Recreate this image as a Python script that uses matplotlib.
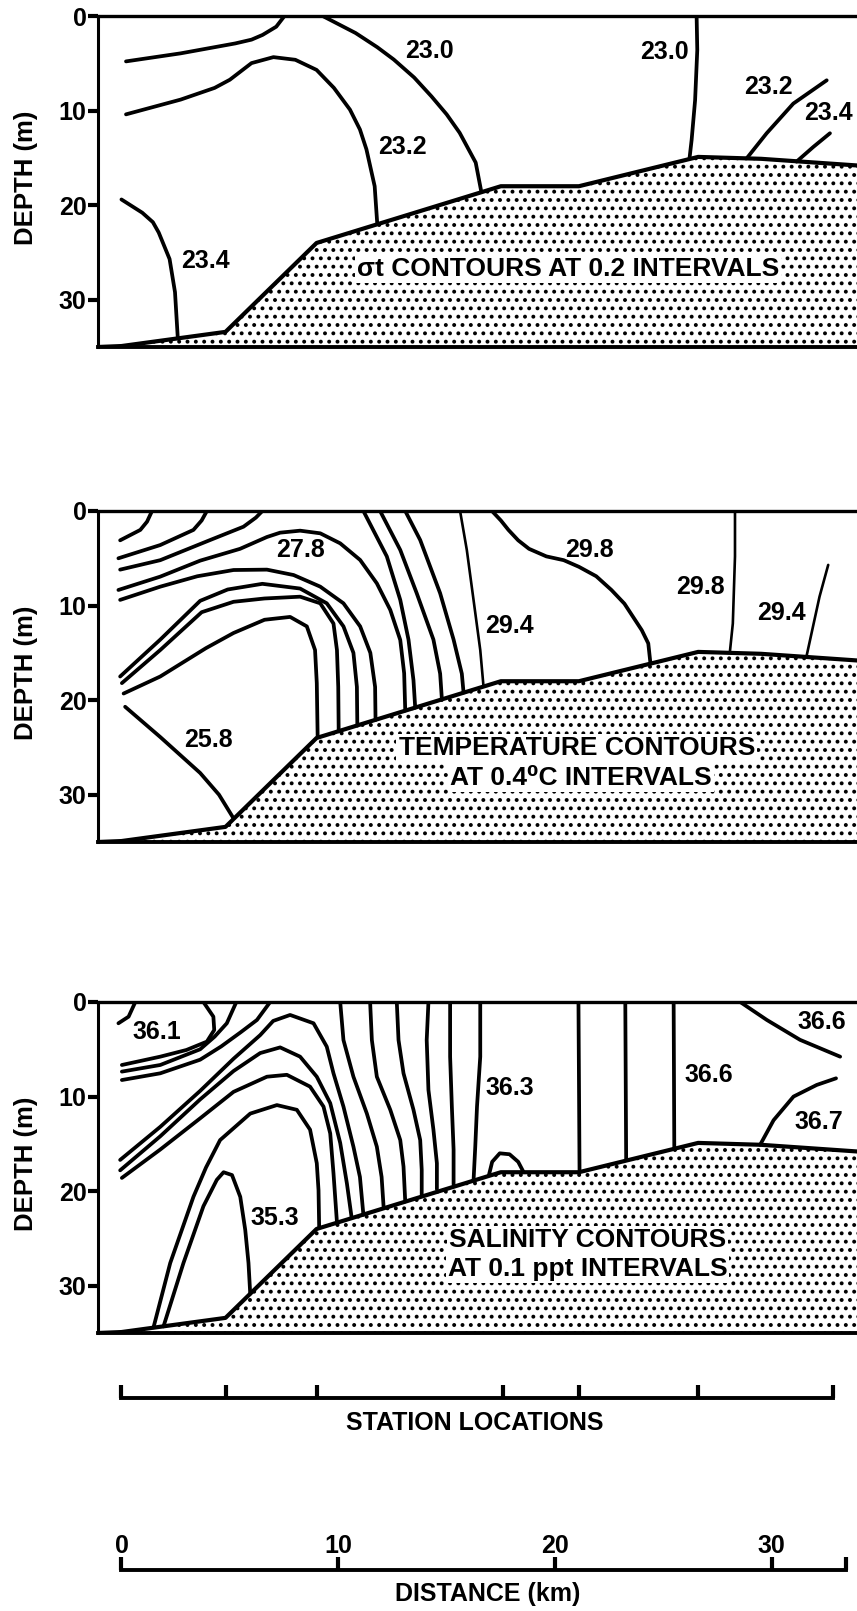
import matplotlib
matplotlib.use("Agg")
import matplotlib.pyplot as plt

plt.rcParams["font.family"] = ["Liberation Sans", "DejaVu Sans"]
plt.rcParams["font.weight"] = "bold"
plt.rcParams["hatch.color"] = "black"
plt.rcParams["hatch.linewidth"] = 1.6

# sea floor profile, distance (km) / depth (m)
bottom_km = [-1.1, 0.0, 4.8, 9.0, 17.5, 21.1, 26.6, 29.5, 33.9, 36.0]
bottom_depth = [35.0, 34.9, 33.4, 24.0, 18.0, 18.0, 14.9, 15.1, 15.8, 16.2]

station_km = [0.0, 4.8, 9.0, 17.6, 21.1, 26.6, 32.8]
distance_ticks = [0, 10, 20, 30]
distance_end_km = 33.4
depth_ticks = [0, 10, 20, 30]

# ---- sigma-t section: (km, depth) ----
sigma_a = [(0.21, 4.8), (2.73, 3.95), (5.25, 2.9), (6.0, 2.5), (6.51, 2.0), (7.14, 1.13), (7.52, 0.0)]
sigma_b = [(0.21, 10.4), (2.73, 8.84), (4.3, 7.6), (5.0, 6.74), (6.0, 4.98), (7.01, 4.35), (8.02, 4.63),
           (9.0, 5.7), (9.8, 7.6), (10.54, 9.9), (11.0, 12.0), (11.3, 14.1), (11.68, 18.0), (11.8, 22.0)]
sigma_c = [(9.28, 0.0), (10.8, 1.8), (11.8, 3.3), (12.56, 4.6), (13.5, 6.5), (14.3, 8.5), (15.0, 10.4),
           (15.6, 12.35), (16.34, 15.5), (16.6, 18.6)]
sigma_d = [(0.0, 19.4), (0.96, 20.8), (1.45, 21.8), (1.72, 22.9), (2.22, 25.7), (2.47, 29.2), (2.6, 34.1)]
sigma_e = [(26.53, 0.0), (26.56, 3.6), (26.46, 8.9), (26.3, 13.1), (26.2, 15.1)]
sigma_f = [(28.84, 15.05), (29.76, 12.4), (30.99, 9.26), (32.53, 6.8)]
sigma_g = [(31.14, 15.4), (31.91, 13.85), (32.68, 12.4)]
sigma_labels = [(14.2, 3.75, "23.0"), (12.94, 13.9, "23.2"), (3.86, 25.9, "23.4"),
                (25.03, 3.78, "23.0"), (29.84, 7.56, "23.2"), (32.6, 10.3, "23.4")]
sigma_caption = [(20.6, 26.7, "σt CONTOURS AT 0.2 INTERVALS")]

# ---- temperature section ----
temp_a = [(-0.06, 3.1), (0.87, 2.0), (1.18, 1.13), (1.41, 0.0)]
temp_b = [(-0.14, 5.0), (1.79, 3.6), (3.32, 2.0), (3.7, 1.0), (3.94, 0.0)]
temp_c = [(-0.06, 6.2), (1.79, 5.2), (4.09, 3.07), (5.63, 1.66), (6.2, 0.7), (6.5, 0.0)]
temp_d = [(-0.14, 8.35), (1.79, 6.94), (3.63, 5.25), (5.47, 4.0), (6.71, 2.75), (7.32, 2.29),
          (8.24, 2.08), (9.17, 2.36), (10.09, 3.42), (11.01, 5.18), (11.78, 7.65), (12.4, 10.46),
          (12.86, 13.64), (13.04, 17.16), (13.09, 21.1)]
temp_e = [(-0.06, 9.4), (1.79, 8.0), (3.5, 6.9), (5.17, 6.24), (6.71, 6.2), (7.94, 6.77),
          (9.17, 8.0), (10.24, 9.76), (11.01, 12.2), (11.48, 15.0), (11.7, 18.6), (11.72, 22.1)]
temp_f = [(-0.06, 17.5), (1.79, 13.6), (3.63, 9.5), (4.9, 8.3), (6.5, 7.7), (8.24, 8.2),
          (9.47, 9.76), (10.24, 12.2), (10.7, 15.0), (10.86, 18.6), (10.88, 22.7)]
temp_g = [(0.02, 18.2), (1.79, 14.7), (3.7, 10.7), (5.17, 9.6), (6.6, 9.25), (8.24, 9.06),
          (9.17, 9.76), (9.78, 11.9), (9.94, 14.7), (10.0, 18.6), (10.02, 23.3)]
temp_h = [(0.1, 19.3), (1.79, 17.5), (3.9, 14.5), (5.17, 12.9), (6.6, 11.5), (7.78, 11.2),
          (8.55, 12.2), (8.93, 14.7), (9.01, 18.2), (9.05, 23.9)]
temp_i = [(0.17, 20.7), (1.79, 23.9), (3.63, 27.7), (4.5, 30.0), (5.17, 32.5)]
temp_j = [(11.16, 0.0), (12.24, 4.8), (12.86, 9.4), (13.24, 13.6), (13.47, 17.9), (13.55, 20.8)]
temp_k = [(11.93, 0.0), (12.86, 4.12), (13.62, 8.7), (14.39, 13.6), (14.7, 17.2), (14.78, 19.9)]
temp_l = [(13.09, 0.0), (13.78, 3.07), (14.7, 8.7), (15.32, 13.6), (15.7, 17.2), (15.78, 19.2)]
temp_m = [(15.62, 0.0), (15.93, 4.12), (16.24, 9.4), (16.55, 14.7), (16.7, 18.55)]
temp_n = [(17.09, 0.0), (17.5, 1.0), (17.85, 2.0), (18.3, 3.1), (18.8, 4.0), (19.6, 4.8), (20.4, 5.2),
          (21.1, 5.9), (21.9, 6.9), (22.6, 8.35), (23.2, 9.8), (23.6, 11.2), (24.0, 12.6),
          (24.3, 14.0), (24.4, 16.1)]
temp_o = [(28.3, 0.0), (28.3, 4.8), (28.2, 11.9), (28.06, 15.0)]
temp_p = [(31.6, 15.35), (32.2, 9.05), (32.6, 5.7)]
temp_labels = [(8.24, 4.12, "27.8"), (21.57, 4.12, "29.8"), (17.9, 12.2, "29.4"),
               (4.0, 24.2, "25.8"), (26.7, 8.0, "29.8"), (30.45, 10.8, "29.4")]
temp_caption = [(21.0, 25.1, "TEMPERATURE CONTOURS"), (21.2, 28.2, "AT 0.4⁰C INTERVALS")]

# ---- salinity section ----
sal_a = [(-0.14, 2.25), (0.33, 1.55), (0.64, 0.0)]
sal_b = [(0.02, 6.66), (1.79, 5.78), (3.0, 5.07), (3.94, 4.19), (4.28, 2.96), (4.24, 1.55), (3.78, 0.0)]
sal_c = [(0.02, 7.36), (1.79, 6.66), (3.63, 5.0), (4.3, 3.66), (4.86, 2.25), (5.3, 0.0)]
sal_d = [(0.02, 8.25), (1.79, 7.54), (3.63, 6.1), (4.6, 4.7), (5.5, 3.2), (6.25, 1.9), (6.86, 0.0)]
sal_e = [(-0.06, 16.7), (1.79, 13.2), (3.63, 9.4), (5.17, 6.0), (6.4, 3.5), (7.0, 2.0), (7.78, 1.37),
         (8.86, 2.25), (9.47, 4.72), (9.78, 7.54), (10.24, 11.06), (10.7, 15.3), (11.0, 18.5), (11.16, 22.5)]
sal_f = [(-0.06, 17.8), (1.79, 14.2), (3.63, 10.3), (5.17, 7.3), (6.4, 5.4), (7.32, 4.8), (8.24, 5.78),
         (9.01, 7.9), (9.63, 10.7), (10.09, 14.9), (10.4, 19.2), (10.62, 22.85)]
sal_g = [(0.02, 18.6), (1.79, 15.6), (3.63, 12.3), (5.17, 9.5), (6.71, 7.9), (7.63, 7.7), (8.7, 8.95),
         (9.32, 11.06), (9.63, 13.9), (9.78, 18.1), (9.94, 23.3)]
sal_h = [(1.48, 34.4), (2.25, 27.6), (3.32, 20.6), (3.9, 17.5), (4.55, 14.6), (5.94, 11.8), (7.17, 10.9),
         (8.09, 11.4), (8.7, 13.5), (9.01, 17.05), (9.09, 19.9), (9.12, 23.8)]
sal_i = [(1.94, 34.3), (2.86, 27.6), (3.78, 21.6), (4.4, 18.8), (4.71, 18.0), (5.1, 18.3), (5.48, 20.6),
         (5.71, 24.1), (5.86, 27.6), (5.94, 30.85)]
sal_j = [(10.09, 0.0), (10.24, 4.02), (10.7, 7.9), (11.32, 11.8), (11.78, 15.3), (12.0, 18.5), (12.09, 21.6)]
sal_k = [(11.47, 0.0), (11.55, 4.02), (11.78, 7.9), (12.4, 11.4), (12.86, 14.6), (13.01, 17.4), (13.09, 21.1)]
sal_l = [(12.7, 0.0), (12.78, 4.02), (13.01, 7.54), (13.47, 11.4), (13.78, 14.6), (13.85, 17.75), (13.85, 20.4)]
sal_m = [(14.16, 0.0), (14.08, 4.02), (14.16, 9.3), (14.39, 13.5), (14.55, 17.05), (14.55, 19.8)]
sal_n = [(15.16, 0.0), (15.16, 5.78), (15.24, 11.06), (15.32, 15.6), (15.32, 19.3)]
sal_o = [(16.55, 0.0), (16.55, 5.78), (16.4, 11.06), (16.32, 15.3), (16.24, 18.9)]
sal_p = [(16.95, 18.3), (17.1, 16.9), (17.45, 16.0), (17.9, 16.1), (18.3, 16.9), (18.55, 18.0)]
sal_q = [(21.08, 0.0), (21.13, 18.0)]
sal_r = [(23.24, 0.0), (23.28, 16.7)]
sal_s = [(25.47, 0.0), (25.5, 15.4)]
sal_t = [(28.54, 0.0), (29.77, 1.9), (31.3, 4.0), (33.15, 5.78)]
sal_u = [(29.46, 15.1), (30.08, 12.5), (31.0, 10.0), (32.07, 8.77), (32.96, 8.07)]
sal_labels = [(1.63, 3.14, "36.1"), (7.09, 22.8, "35.3"), (17.9, 9.1, "36.3"),
              (27.09, 7.7, "36.6"), (32.3, 2.08, "36.6"), (32.15, 12.65, "36.7")]
sal_caption = [(21.5, 25.2, "SALINITY CONTOURS"), (21.5, 28.2, "AT 0.1 ppt INTERVALS")]

sigma_lines = [sigma_a, sigma_b, sigma_c, sigma_d, sigma_e, sigma_f, sigma_g]
temp_lines = [temp_a, temp_b, temp_c, temp_d, temp_e, temp_f, temp_g, temp_h, temp_i,
              temp_j, temp_k, temp_l, temp_m, temp_n, temp_o, temp_p]
sal_lines = [sal_a, sal_b, sal_c, sal_d, sal_e, sal_f, sal_g, sal_h, sal_i, sal_j, sal_k,
             sal_l, sal_m, sal_n, sal_o, sal_p, sal_q, sal_r, sal_s, sal_t, sal_u]

W, H = 857, 1611
KM_MIN, KM_MAX = -1.1, 36.0
PX_PER_KM = 21.68
LEFT_PX = 97.6


def draw_section(ax, lines, labels, caption, thin=()):
    ax.fill_between(bottom_km, bottom_depth, 40, facecolor="white", edgecolor="black",
                    hatch="..", linewidth=0, zorder=1)
    ax.plot(bottom_km, bottom_depth, color="black", lw=3.0, solid_joinstyle="round", zorder=3)
    for line in lines:
        xs = [p[0] for p in line]
        ys = [p[1] for p in line]
        lw = 1.9 if any(line is t for t in thin) else 2.7
        ax.plot(xs, ys, color="black", lw=lw, solid_capstyle="round",
                solid_joinstyle="round", zorder=2)
    for x, y, s in labels:
        ax.text(x, y, s, ha="center", va="center", fontsize=18, fontweight="bold", zorder=4)
    for x, y, s in caption:
        ax.text(x, y, s, ha="center", va="center", fontsize=19, fontweight="bold", zorder=4,
                bbox=dict(facecolor="white", edgecolor="none", pad=1.5))
    ax.set_xlim(KM_MIN, KM_MAX)
    ax.set_ylim(35, 0)
    ax.set_xticks([])
    ax.set_yticks(depth_ticks)
    ax.tick_params(axis="y", direction="out", length=7, width=3, pad=1, labelsize=18)
    for lab in ax.get_yticklabels():
        lab.set_fontweight("bold")
    ax.spines["right"].set_visible(False)
    ax.spines["top"].set_linewidth(2.4)
    ax.spines["left"].set_linewidth(2.2)
    ax.spines["bottom"].set_linewidth(2.8)


def main():
    fig = plt.figure(figsize=(W / 100, H / 100), dpi=100)
    left = LEFT_PX / W
    width = (KM_MAX - KM_MIN) * PX_PER_KM / W
    panel_h = 331

    panels = [
        (16, sigma_lines, sigma_labels, sigma_caption, ()),
        (511, temp_lines, temp_labels, temp_caption, (temp_m, temp_o, temp_p)),
        (1002, sal_lines, sal_labels, sal_caption, ()),
    ]
    for top, lines, labels, caption, thin in panels:
        ax = fig.add_axes([left, 1 - (top + panel_h) / H, width, panel_h / H])
        draw_section(ax, lines, labels, caption, thin)
        fig.text(26 / W, 1 - (top + panel_h / 2 - 4) / H, "DEPTH (m)", rotation=90,
                 ha="center", va="center", fontsize=18.5, fontweight="bold")

    # station bar and distance scale, y in pixel units
    axb = fig.add_axes([left, 0, width, 271 / H])
    axb.set_xlim(KM_MIN, KM_MAX)
    axb.set_ylim(H, 1340)
    axb.axis("off")

    axb.plot([station_km[0], station_km[-1]], [1398, 1398], color="black", lw=2.8)
    axb.vlines(station_km, 1385, 1398, color="black", lw=3.0)
    axb.text(16.3, 1423, "STATION LOCATIONS", ha="center", va="center", fontsize=18,
             fontweight="bold")

    axb.plot([0, distance_end_km], [1570, 1570], color="black", lw=2.8)
    axb.vlines(distance_ticks + [distance_end_km], 1557, 1570, color="black", lw=3.0)
    for d in distance_ticks:
        axb.text(d, 1546, str(d), ha="center", va="center", fontsize=18, fontweight="bold")
    axb.text(16.9, 1594, "DISTANCE (km)", ha="center", va="center", fontsize=18,
             fontweight="bold")

    fig.savefig("out.png", dpi=100)


if __name__ == "__main__":
    main()
